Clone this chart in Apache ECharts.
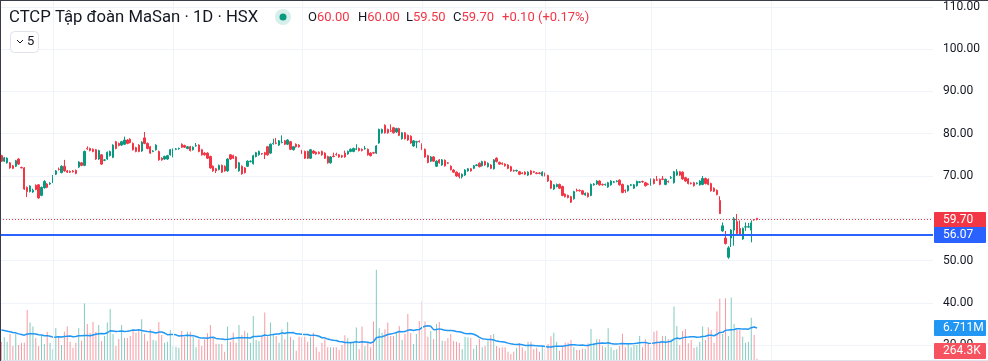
<!DOCTYPE html>
<html><head><meta charset="utf-8">
<script src="https://cdn.jsdelivr.net/npm/echarts@6.0.0/dist/echarts.min.js"></script>
<style>html,body{margin:0;padding:0;background:#fff;}#c{width:988px;height:361px;}</style>
</head><body><div id="c"></div><script>
// ---------------- DATA ----------------
const titleText = 'CTCP Tập đoàn MaSan · 1D · HSX';
const hLineLevel = 56.07;
const priceTicks = [30, 110, 10]; // min, max, step
const gridTickIdx = [18, 60, 105, 147, 190, 227, 269];

const opens = [
74.8,73.5,73.1,73.1,72.4,72.3,74.0,72.0,71.9,67.3,66.3,66.2,67.8,67.9,65.4,67.2,68.1,68.1,68.5,70.4,
71.6,70.8,72.3,71.2,71.1,71.2,71.3,72.1,73.1,72.5,76.5,76.5,76.3,76.2,74.0,75.0,73.7,74.0,74.8,74.4,
78.1,77.7,77.3,77.5,78.5,78.7,77.7,76.7,77.3,75.9,79.0,77.7,76.9,75.8,
76.2,75.8,74.2,74.0,74.0,75.0,74.6,76.3,76.4,77.5,77.2,76.5,76.9,76.2,77.1,77.3,76.2,75.4,75.4,74.6,
72.3,71.7,71.5,72.5,72.3,71.2,75.0,74.8,74.5,71.2,72.3,71.9,72.3,73.4,72.9,74.6,75.0,75.3,75.5,76.9,
75.4,77.6,77.8,77.3,77.9,78.3,77.5,78.1,76.2,77.5,77.3,76.0,75.8,
75.8,74.2,75.9,75.6,75.6,75.8,75.4,74.6,73.1,74.7,75.1,75.0,74.8,75.4,75.2,75.8,75.8,76.3,76.5,76.3,
76.4,76.3,75.4,75.5,75.4,77.8,80.2,82.0,81.0,80.7,81.4,80.4,81.2,78.8,80.2,79.6,79.4,77.1,78.0,78.2,
77.5,76.3,74.8,73.5,74.5,72.3,73.8,72.6,73.7,73.1,72.3,71.4,70.9,
70.6,69.8,70.2,71.2,71.7,71.8,72.5,73.0,72.4,73.4,72.2,72.6,71.7,74.2,73.2,73.0,72.8,72.6,72.2,71.3,
71.2,71.0,70.7,70.9,70.2,71.2,71.0,70.7,70.7,70.1,70.6,70.1,68.8,66.9,67.5,68.0,67.5,65.7,65.4,65.1,
64.6,66.6,66.6,66.5,65.5,65.9,65.4,67.9,68.1,68.8,68.0,67.9,
67.4,67.9,68.5,68.7,69.0,68.0,66.6,66.5,67.8,67.1,67.7,68.5,68.7,68.4,68.1,67.9,69.2,69.1,69.2,69.3,
68.0,68.7,69.5,68.4,70.2,71.0,70.9,69.6,69.3,68.3,68.4,68.2,67.9,68.0,69.4,69.2,68.2,67.1,66.6,64.2,
57.0,55.3,50.8,55.3,57.2,59.2,57.6,55.1,57.9,57.9,57.2,59.7,60.0];
const closes = [
73.5,74.3,74.2,71.9,71.8,73.6,72.8,71.9,66.9,66.3,67.6,66.6,66.8,64.8,67.3,68.7,67.3,68.3,69.8,71.2,
71.5,72.3,71.2,70.9,70.9,71.0,70.6,73.3,72.5,75.8,76.4,76.0,75.8,74.0,76.0,72.8,73.8,75.6,75.8,77.3,
76.5,77.2,78.1,78.5,77.7,77.9,76.2,75.8,75.8,78.0,77.7,76.5,75.4,75.9,
77.3,73.8,73.8,74.6,74.8,76.2,76.3,76.4,76.5,76.8,76.8,76.9,76.0,76.8,77.2,75.8,75.0,75.0,74.2,71.9,
71.2,71.2,72.5,70.9,71.2,74.0,74.0,74.2,71.9,73.1,70.5,70.8,73.5,73.5,74.8,75.5,75.8,75.2,75.0,75.0,
77.5,77.7,77.7,78.3,78.0,77.5,78.5,76.3,76.9,76.9,76.9,75.4,74.2,
74.2,76.2,75.4,75.2,75.3,75.0,74.2,73.1,74.5,74.6,75.0,74.5,74.5,74.5,75.8,76.3,76.5,76.4,76.0,76.0,
76.5,75.0,74.8,75.4,77.1,81.0,81.0,80.2,80.2,80.6,80.2,81.2,79.6,80.2,78.8,78.5,77.8,78.3,78.1,78.1,
76.3,74.5,73.2,74.5,73.5,73.5,73.1,73.8,72.4,73.0,71.5,70.9,70.0,
69.8,70.4,71.4,71.7,71.2,72.4,72.6,72.2,73.4,72.6,73.0,71.8,73.8,73.4,72.8,72.8,72.4,71.8,71.2,71.2,
71.3,70.4,70.6,70.4,70.9,70.4,70.9,70.6,70.6,70.9,70.1,68.8,67.1,67.9,68.0,67.1,65.4,65.1,64.9,63.8,
66.3,66.5,66.5,65.7,65.9,65.1,68.0,68.1,68.8,67.9,67.9,68.0,
68.4,68.8,68.6,68.8,67.9,66.1,66.5,67.7,67.9,67.9,68.7,68.6,68.6,67.7,68.0,69.2,68.2,69.0,68.0,69.2,
69.2,68.6,69.6,71.0,71.0,70.2,69.3,68.8,68.2,68.2,67.7,68.3,68.8,69.4,68.2,68.0,66.5,66.4,65.6,61.1,
58.2,54.0,53.0,57.2,59.9,56.4,56.3,57.6,58.0,58.0,58.9,59.6,59.7];
const lows = [
73.3,73.3,72.9,71.7,71.6,72.1,72.6,71.8,66.7,65.0,66.1,66.0,66.6,64.6,65.2,67.0,67.1,67.9,68.3,70.2,
71.3,70.6,71.0,70.7,70.7,70.8,70.4,71.9,72.3,72.3,76.2,75.8,75.6,73.8,73.8,72.6,73.5,73.8,74.6,74.2,
76.3,77.0,77.1,77.3,77.5,77.7,76.0,75.6,75.6,75.7,77.5,76.3,75.2,75.6,
76.0,73.6,73.6,73.8,73.8,74.8,74.4,76.1,76.2,76.6,76.6,76.3,75.8,76.0,76.9,75.6,74.8,74.8,74.0,71.7,
71.0,70.7,71.3,70.7,71.0,71.0,73.8,74.0,71.7,71.0,70.3,70.6,72.1,73.2,72.7,74.4,74.8,75.0,74.0,74.8,
75.2,77.4,77.5,77.1,77.7,77.3,77.3,76.1,76.0,76.7,76.7,75.2,74.0,
74.0,74.0,75.2,75.0,75.1,74.8,74.0,72.9,72.9,74.4,74.8,74.3,74.3,74.3,75.0,75.6,75.6,76.1,75.8,75.8,
76.2,74.8,74.6,75.2,75.2,77.6,80.0,80.0,80.0,80.4,80.0,80.2,79.4,78.6,78.6,78.3,77.6,76.9,76.6,77.9,
76.1,74.3,73.0,73.3,73.3,72.1,72.9,72.4,72.2,72.8,71.3,70.7,69.8,
69.4,69.4,70.0,71.0,71.0,71.6,72.3,72.0,72.2,72.4,72.0,71.6,71.5,73.2,72.6,72.6,72.2,71.6,71.0,71.0,
71.0,70.2,70.4,70.2,70.0,70.2,70.7,70.4,70.4,69.9,69.9,68.6,66.9,66.7,67.3,66.9,65.2,64.9,64.7,63.6,
64.4,66.3,66.3,65.5,65.3,64.9,65.2,67.7,67.9,67.7,67.7,67.7,
67.2,67.7,68.3,68.5,67.7,65.9,66.0,66.3,67.6,66.9,67.5,68.3,68.4,67.5,67.8,67.7,68.0,68.8,67.8,69.0,
67.8,68.4,69.3,68.2,70.0,70.0,69.1,68.6,68.0,68.0,67.5,68.0,67.7,67.8,68.0,67.8,66.3,66.2,65.4,61.0,
56.8,53.8,50.4,53.2,53.5,56.0,56.1,54.9,57.0,57.8,54.3,59.4,59.5];
const highs = [
75.0,74.5,74.4,73.3,72.6,73.8,74.2,72.2,72.1,67.5,67.8,67.0,68.0,68.1,67.5,69.0,68.3,68.5,70.2,71.4,
72.0,72.5,73.8,71.4,71.3,71.4,71.5,73.5,73.3,76.0,77.0,76.7,76.5,76.4,76.2,75.2,74.0,75.8,76.0,77.5,
78.3,77.9,78.3,79.3,78.7,78.9,77.9,76.9,77.5,78.2,80.4,77.9,77.1,76.1,
77.5,76.0,74.4,74.8,75.0,76.4,76.5,76.6,76.7,77.7,77.4,77.1,77.1,77.0,77.8,77.5,76.4,75.6,75.6,74.8,
72.5,71.9,72.7,72.7,72.5,74.2,75.2,75.0,74.7,73.3,72.5,72.1,73.7,73.7,75.0,75.7,76.0,75.4,75.7,77.1,
77.7,78.8,79.0,78.5,79.6,78.5,78.7,78.3,77.1,77.7,77.5,76.2,76.0,
76.0,76.4,76.1,75.8,75.8,76.0,75.6,74.8,74.7,75.5,75.5,75.2,75.0,76.0,76.0,76.5,76.7,77.5,76.7,76.5,
77.1,76.5,75.6,75.7,77.3,81.2,81.2,82.2,81.2,82.2,81.6,81.4,81.4,80.4,80.4,79.8,79.6,78.5,78.3,78.4,
77.7,76.5,75.0,74.7,74.7,73.7,74.0,74.0,73.9,73.3,72.5,71.6,71.1,
70.8,70.6,71.6,71.9,71.9,72.6,72.8,73.2,73.6,73.6,73.2,72.8,74.0,74.4,73.4,73.2,73.0,72.8,72.4,71.5,
71.5,71.2,70.9,71.1,71.1,71.4,71.2,70.9,70.9,71.1,70.8,70.3,69.0,68.1,68.2,68.2,67.7,65.9,65.6,65.3,
66.5,67.0,66.8,66.7,66.1,66.1,68.2,68.3,69.0,69.0,68.2,68.2,
68.6,69.0,68.8,69.0,69.2,68.2,66.8,67.9,68.1,68.1,68.9,68.8,68.9,68.6,68.3,69.4,69.4,70.0,69.4,70.0,
69.4,68.9,70.0,71.2,71.6,71.2,71.1,69.8,69.5,68.5,68.6,68.5,69.0,70.0,69.6,69.4,68.4,67.3,66.8,65.2,
59.0,57.0,53.4,57.4,60.3,61.0,59.5,57.8,59.0,58.9,59.5,59.8,60.0];
// volumes in millions of shares
const volumesM = [
3.84,4.75,3.84,5.45,2.94,5.45,3.14,3.63,3.63,10.48,7.83,6.99,4.61,2.94,5.03,3.35,5.94,3.63,2.31,6.71,
5.03,3.14,5.94,6.99,3.84,2.59,3.63,6.71,4.05,11.81,7.55,5.73,7.97,5.94,7.34,3.98,5.03,7.83,10.69,5.45,
2.94,4.40,7.34,4.61,4.61,5.03,6.29,5.73,6.29,8.53,5.45,3.98,6.43,4.19,4.05,7.97,5.24,3.63,3.84,6.29,
2.94,2.80,2.59,6.08,4.89,5.94,5.94,4.89,2.66,4.33,2.94,4.33,5.59,7.34,4.75,3.42,3.35,3.35,1.75,6.99,
3.84,5.73,3.63,7.34,5.24,6.15,5.73,3.63,9.22,4.19,3.98,5.03,9.92,4.89,7.83,5.24,5.03,3.63,6.43,4.33,
7.97,4.89,4.19,1.96,4.89,4.75,4.89,3.84,4.75,5.73,2.66,1.75,3.63,4.33,2.66,2.66,2.66,2.66,2.10,3.14,
5.17,4.54,3.84,3.84,6.78,2.24,6.99,2.94,3.63,2.66,8.04,18.87,6.64,5.73,6.43,7.83,5.03,5.03,5.73,7.13,
4.19,5.45,9.64,5.59,3.35,5.45,8.18,12.37,8.04,4.89,6.08,4.40,7.55,7.97,4.05,3.98,4.54,5.45,3.98,3.84,
3.63,2.24,4.89,4.75,4.61,2.38,3.07,4.40,2.66,2.94,4.05,5.24,5.45,2.94,2.59,2.66,2.66,1.75,1.26,1.75,
2.59,3.49,2.66,1.96,3.84,3.84,2.24,2.59,1.75,2.94,2.24,3.35,4.96,5.73,3.84,1.96,2.66,3.63,3.63,4.19,
2.66,2.10,2.10,2.38,2.38,3.49,6.50,3.63,4.40,4.33,2.94,2.66,6.64,2.66,2.10,2.24,2.94,5.52,2.66,3.49,
2.66,3.07,3.14,5.03,2.66,4.33,3.49,2.66,5.94,6.15,3.84,5.03,5.03,4.33,4.33,11.18,7.13,3.14,6.08,6.50,
3.49,4.19,2.59,2.80,3.84,6.99,4.19,6.85,6.29,3.63,10.13,12.80,5.45,12.93,5.03,13.07,7.55,6.29,6.29,4.89,
3.63,3.84,8.87,5.24,0.2643];
// the 19 sessions before the visible window (needed for the 20-day volume average)
const prevVolumesM = [7.2,6.5,8.1,5.9,6.8,7.5,6.0,6.7,5.8,6.4,7.0,5.5,6.2,5.9,6.6,5.7,6.3,6.0,5.9];
const maLength = 20;

// ---------------- CHART ----------------
const FONT = 'Roboto, "Liberation Sans", sans-serif';
const UP = '#089981', DOWN = '#F23645';
const N = opens.length;
const SLOTS = 326;
const categories = Array.from({length: SLOTS}, (_, i) => String(i));
const candleData = opens.map((o, i) => [o, closes[i], lows[i], highs[i]]);
const isUp = i => closes[i] >= opens[i];
const volData = volumesM.map((v, i) => ({value: v, itemStyle: {color: isUp(i) ? 'rgba(8,153,129,0.5)' : 'rgba(242,54,69,0.5)'}}));
const allVol = prevVolumesM.concat(volumesM);
const volMA = volumesM.map((_, i) => { let s = 0; for (let k = i; k < i + maLength; k++) s += allVol[k]; return s / maLength; });

const chart = echarts.init(document.getElementById('c'), null, {renderer: 'canvas'});
const option = {
  animation: false,
  backgroundColor: '#ffffff',
  grid: [
    {left: 0, right: 55, top: 6.8, height: 338.3},
    {left: 0, right: 55, top: 200, bottom: 1},
    {left: 0, right: 55, top: 0, bottom: 0}
  ],
  xAxis: [0, 1, 2].map(g => ({type: 'category', gridIndex: g, data: categories, boundaryGap: true, show: false})),
  yAxis: [
    {type: 'value', gridIndex: 0, position: 'right', min: priceTicks[0], max: priceTicks[1], interval: priceTicks[2],
     axisLine: {show: false}, axisTick: {show: false},
     splitLine: {show: true, lineStyle: {color: '#f0f3fa', width: 1}},
     axisLabel: {margin: 10, align: 'left', color: '#131722', fontSize: 12, fontFamily: FONT, formatter: v => v.toFixed(2)}},
    {type: 'value', gridIndex: 1, min: 0, max: 33.5, show: false},
    {type: 'value', gridIndex: 2, min: 0, max: 1, show: false}
  ],
  series: [
    {type: 'line', xAxisIndex: 2, yAxisIndex: 2, data: categories.map(() => null), silent: true, z: 0, symbol: 'none',
     markLine: {symbol: 'none', silent: true, animation: false, label: {show: false},
       lineStyle: {color: '#f0f3fa', width: 1, type: 'solid'},
       data: gridTickIdx.map(k => ({xAxis: k}))}},
    {type: 'bar', xAxisIndex: 1, yAxisIndex: 1, data: volData, barWidth: 1, z: 1, silent: true},
    {type: 'line', xAxisIndex: 1, yAxisIndex: 1, data: volMA, symbol: 'none', showSymbol: false, z: 2, silent: true,
     lineStyle: {color: '#2196F3', width: 1.5}},
    {type: 'candlestick', xAxisIndex: 0, yAxisIndex: 0, data: candleData, barWidth: 1.8, z: 3, silent: true,
     itemStyle: {color: UP, color0: DOWN, borderColor: UP, borderColor0: DOWN, borderWidth: 1},
     markLine: {symbol: 'none', silent: true, animation: false, label: {show: false},
       data: [
         {yAxis: closes[N - 1], lineStyle: {color: DOWN, width: 1, type: [1, 2]}},
         {yAxis: hLineLevel, lineStyle: {color: '#2962FF', width: 2, type: 'solid'}}
       ]}}
  ]
};
chart.setOption(option);

const yP = v => chart.convertToPixel({yAxisIndex: 0}, v);
const vP = v => chart.convertToPixel({yAxisIndex: 1}, v);
const fmtVol = m => m >= 1 ? m.toFixed(3) + 'M' : (m * 1000).toFixed(1) + 'K';
function tag(text, cy, bg) {
  return [
    {type: 'rect', z: 200, zlevel: 1, shape: {x: 934, y: Math.round(cy) - 8, width: 52, height: 16, r: 1}, style: {fill: bg}},
    {type: 'text', z: 201, zlevel: 1, x: 943, y: Math.round(cy), style: {text: text, fill: '#ffffff', font: '12px ' + FONT, verticalAlign: 'middle'}}
  ];
}
const lastO = opens[N - 1], lastH = highs[N - 1], lastL = lows[N - 1], lastC = closes[N - 1];
const chg = lastC - closes[N - 2];
const pct = chg / closes[N - 2] * 100;
const sign = v => (v >= 0 ? '+' : '') + v.toFixed(2);
const legendFont = '13px ' + FONT;
const kv = (k, v, x) => ({type: 'text', z: 110, x: x, y: 18, style: {
  text: '{k|' + k + '}{v|' + v + '}', verticalAlign: 'middle',
  rich: {k: {fill: '#131722', font: legendFont}, v: {fill: DOWN, font: legendFont}}}});
const volTagY = Math.min(vP(volumesM[N - 1]), 351);

chart.setOption({graphic: [
  {type: 'rect', shape: {x: 0, y: 0, width: 988, height: 1}, style: {fill: '#3a3d48'}, z: 120},
  {type: 'rect', shape: {x: 0, y: 0, width: 1, height: 361}, style: {fill: '#3a3d48'}, z: 120},
  {type: 'rect', shape: {x: 0, y: 360, width: 988, height: 1}, style: {fill: '#e0e3eb'}, z: 90},
  {type: 'text', x: 9, y: 18, z: 110, style: {text: titleText, font: '16.7px ' + FONT, fill: '#131722', verticalAlign: 'middle'}},
  {type: 'circle', z: 110, shape: {cx: 283, cy: 17, r: 8}, style: {fill: 'rgba(8,153,129,0.16)'}},
  {type: 'circle', z: 111, shape: {cx: 283, cy: 17, r: 3.5}, style: {fill: UP}},
  kv('O', lastO.toFixed(2), 308),
  kv('H', lastH.toFixed(2), 358),
  kv('L', lastL.toFixed(2), 406),
  kv('C', lastC.toFixed(2), 453),
  {type: 'text', x: 502, y: 18, z: 110, style: {text: sign(chg) + ' (' + sign(pct) + '%)', fill: DOWN, font: legendFont, verticalAlign: 'middle'}},
  {type: 'rect', z: 110, shape: {x: 10.5, y: 31.5, width: 28, height: 21, r: 4}, style: {fill: '#ffffff', stroke: '#e0e3eb', lineWidth: 1}},
  {type: 'polyline', z: 111, shape: {points: [[17, 40], [20, 43], [23, 40]]}, style: {stroke: '#131722', lineWidth: 1, fill: null}},
  {type: 'text', x: 27, y: 42, z: 111, style: {text: String(maLength / 4), font: '13px ' + FONT, fill: '#131722', verticalAlign: 'middle'}}
].concat(
  tag(lastC.toFixed(2), yP(lastC), DOWN),
  tag(hLineLevel.toFixed(2), yP(hLineLevel), '#2962FF'),
  tag(fmtVol(volMA[N - 1]), vP(volMA[N - 1]), '#2196F3'),
  tag(fmtVol(volumesM[N - 1]), volTagY, '#F7525F')
)});
</script></body></html>
